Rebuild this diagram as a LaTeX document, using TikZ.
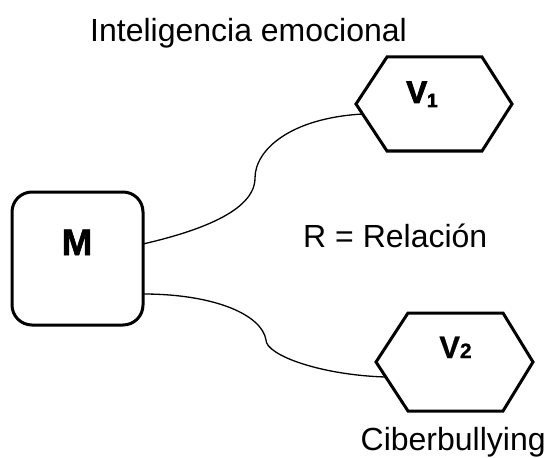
\documentclass[tikz,border=0pt]{standalone}
\usepackage{fontspec}
\setmainfont{Liberation Sans}
\newfontfamily\heavyfont[FakeBold=3]{Liberation Sans Bold}
\newfontfamily\boldfont[FakeBold=1.5]{Liberation Sans Bold}
\newfontfamily\semibold[FakeBold=0.5]{Liberation Sans Bold}
\begin{document}
\begin{tikzpicture}[x=1pt,y=-1pt,
  lbl/.style={inner sep=0pt,anchor=base west,font=\fontsize{32}{32}\selectfont},
  shapeline/.style={line width=3pt,line join=miter},
  conn/.style={line width=1.3pt}]
\useasboundingbox[fill=white] (0,0) rectangle (545,457);
% M box
\node[draw,shapeline,rounded corners=20pt,minimum width=131pt,minimum height=133pt,inner sep=0pt] (M) at (77.5,258.5) {};
\node[inner sep=0pt,anchor=base,font=\boldfont\fontsize{37}{37}\selectfont] (Mtext) at (77,255) {M};
% V1 hexagon
\coordinate (v1l) at (356,104);
\coordinate (v1tl) at (387,57);
\coordinate (v1tr) at (482,57);
\coordinate (v1r) at (512,104);
\coordinate (v1br) at (482,151);
\coordinate (v1bl) at (387,151);
\draw[shapeline] (v1l) -- (v1tl) -- (v1tr) -- (v1r) -- (v1br) -- (v1bl) -- cycle;
\node[inner sep=0pt,anchor=base,font=\heavyfont\fontsize{31}{31}\selectfont] (V1) at (422,103) {V\raisebox{-4pt}{\fontsize{19}{19}\selectfont 1}};
% V2 hexagon
\coordinate (v2l) at (376,362);
\coordinate (v2tl) at (408,313);
\coordinate (v2tr) at (503,313);
\coordinate (v2r) at (533,362);
\coordinate (v2br) at (503,411);
\coordinate (v2bl) at (408,411);
\draw[shapeline] (v2l) -- (v2tl) -- (v2tr) -- (v2r) -- (v2br) -- (v2bl) -- cycle;
\node[inner sep=0pt,anchor=base,font=\semibold\fontsize{31}{31}\selectfont] (V2) at (455.5,358) {V{\fontsize{21}{21}\selectfont 2}};
% connector endpoints
\coordinate (m1) at (143,244);
\coordinate (i1) at (255,178);
\coordinate (e1) at (363,114);
\coordinate (m2) at (143,294);
\coordinate (i2) at (266,340);
\coordinate (e2) at (385.5,377);
\draw[conn] (m1) .. controls (195,232) and (255,212) .. (i1)
                 .. controls (255,150) and (290,118) .. (e1);
\draw[conn] (m2) .. controls (215,294) and (262,315) .. (i2)
                 .. controls (266,355) and (320,375) .. (e2);
% labels
\node[lbl] (t1) at (90,42) {Inteligencia emocional};
\node[lbl] (t2) at (303,247) {R = Relación};
\node[lbl] (t3) at (360.5,450) {Ciberbullying};
\end{tikzpicture}
\end{document}
